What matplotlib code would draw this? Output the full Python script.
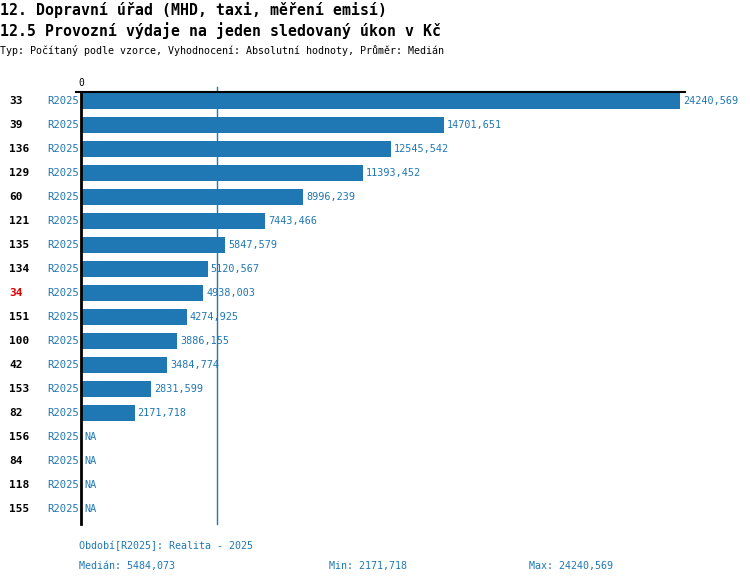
import math

import matplotlib
matplotlib.use("Agg")
import matplotlib.pyplot as plt

# data
ids = ["33", "39", "136", "129", "60", "121", "135", "134", "34",
       "151", "100", "42", "153", "82", "156", "84", "118", "155"]
period = "R2025"
values = [24240.569, 14701.651, 12545.542, 11393.452, 8996.239, 7443.466,
          5847.579, 5120.567, 4938.003, 4274.925, 3886.155, 3484.774,
          2831.599, 2171.718, math.nan, math.nan, math.nan, math.nan]
highlight = "34"
median_val = 5484.073
min_val = 2171.718
max_val = 24240.569

BLUE = "#1f77b4"
RED = "#e00000"
MONO = "DejaVu Sans Mono"

W, H = 750, 584


def fx(px):
    return px / W


def fy(py):
    return 1 - py / H


def fmt(v):
    return f"{v:.3f}".replace(".", ",")


plt.rcParams["font.family"] = MONO
fig = plt.figure(figsize=(W / 100, H / 100), dpi=100)

# plot area spans x 81..685 px, y 92..524 px
ax = fig.add_axes([fx(81), fy(524), fx(685 - 81), fy(92) - fy(524)])
xmax = max_val * (685 - 81) / (680 - 81)
px = xmax / 604  # one pixel in data units
ax.set_xlim(0, xmax)
n = len(ids)
ybot, ytop = (524 - 101) / 24, -(101 - 92) / 24
ax.set_ylim(ybot, ytop)

for sp in ("right", "bottom"):
    ax.spines[sp].set_visible(False)
ax.spines["left"].set_linewidth(2)
ax.spines["top"].set_linewidth(1.5)
ax.set_yticks([])
ax.xaxis.tick_top()
ax.set_xticks([0])
ax.set_xticklabels(["0"], fontsize=7)
ax.tick_params(axis="x", length=0, pad=3)

ypos = list(range(n))
bar_vals = [0 if math.isnan(v) else v for v in values]
ax.barh(ypos, bar_vals, height=0.66, color=BLUE, zorder=2)

# median line
ax.plot([median_val, median_val], [ybot, -0.58], color=BLUE,
        lw=1, clip_on=False, zorder=1)
# short extension of the top line left of the axis
ax.plot([-5 * px, 0], [ytop, ytop], color="black", lw=1.5, clip_on=False)

for i, (lab, v) in enumerate(zip(ids, values)):
    yy = fy(101 + 24 * i)
    fig.text(fx(9), yy, lab, fontsize=8, fontweight="bold",
             color=RED if lab == highlight else "black", va="center", ha="left")
    fig.text(fx(79), yy, period, fontsize=7.6, color=BLUE, va="center", ha="right")
    if math.isnan(v):
        ax.text(3 * px, i, "NA", fontsize=7.3, color=BLUE, va="center",
                ha="left", clip_on=False)
    else:
        ax.text(v + 3 * px, i, fmt(v), fontsize=7.3, color=BLUE, va="center",
                ha="left", clip_on=False)

fig.text(0, fy(10), "12. Dopravní úřad (MHD, taxi, měření emisí)", fontsize=10.7,
         fontweight="bold", va="center", ha="left")
fig.text(0, fy(31), "12.5 Provozní výdaje na jeden sledovaný úkon v Kč", fontsize=10.7,
         fontweight="bold", va="center", ha="left")
fig.text(0, fy(51), "Typ: Počítaný podle vzorce, Vyhodnocení: Absolutní hodnoty, Průměr: Medián",
         fontsize=7.2, va="center", ha="left")

fig.text(fx(79), fy(546), f"Období[{period}]: Realita - 2025", fontsize=7.2,
         color=BLUE, va="center", ha="left")
fig.text(fx(79), fy(566), f"Medián: {fmt(median_val)}", fontsize=7.2,
         color=BLUE, va="center", ha="left")
fig.text(fx(329), fy(566), f"Min: {fmt(min_val)}", fontsize=7.2,
         color=BLUE, va="center", ha="left")
fig.text(fx(529), fy(566), f"Max: {fmt(max_val)}", fontsize=7.2,
         color=BLUE, va="center", ha="left")

fig.savefig("out.png", dpi=100, facecolor="white")
